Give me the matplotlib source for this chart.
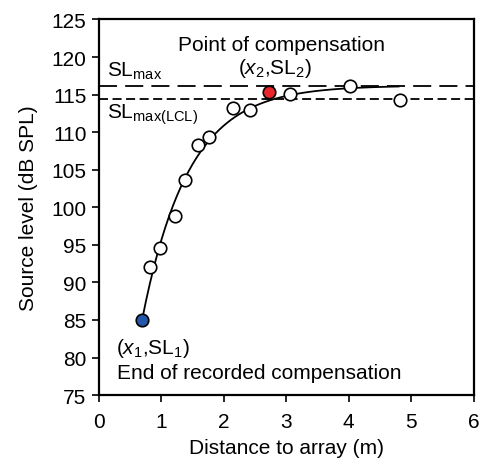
import numpy as np
import matplotlib
matplotlib.use("Agg")
import matplotlib.pyplot as plt

plt.rcParams['font.family'] = ['Liberation Sans', 'DejaVu Sans']
plt.rcParams['mathtext.fontset'] = 'custom'
plt.rcParams['mathtext.rm'] = 'Liberation Sans'
plt.rcParams['mathtext.it'] = 'Liberation Sans:italic'

# data (distance m, source level dB SPL)
dist = [0.82, 0.97, 1.22, 1.38, 1.58, 1.77, 2.14, 2.42, 3.06, 4.02, 4.82]
sl = [92.1, 94.6, 98.8, 103.6, 108.3, 109.4, 113.2, 113.0, 115.1, 116.1, 114.3]
start_pt = (0.69, 85.0)      # (x1, SL1)
comp_pt = (2.72, 115.3)      # (x2, SL2)
sl_max = 116.1
sl_max_lcl = 114.4
# exponential fit parameters
fit_asym = 116.2
fit_amp = 31.2
fit_rate = 1.35
fit_x_end = 4.8

fig = plt.figure(figsize=(4.82, 4.60), dpi=100)
ax = fig.add_axes([0.2054, 0.139, 0.7770, 0.8165])

xf = np.linspace(start_pt[0], fit_x_end, 200)
yf = fit_asym - fit_amp * np.exp(-fit_rate * (xf - start_pt[0]))
ax.plot(xf, yf, color='black', lw=1.3, zorder=3)

ax.axhline(sl_max, color='black', lw=1.3, dashes=(10, 4.5), zorder=2)
ax.axhline(sl_max_lcl, color='black', lw=1.3, dashes=(5, 2.5), zorder=2)

ax.plot(dist, sl, 'o', ms=9, mfc='white', mec='black', mew=1.2, zorder=4)
ax.plot(*start_pt, 'o', ms=9, mfc='#2358a8', mec='black', mew=1.2, zorder=5)
ax.plot(*comp_pt, 'o', ms=9, mfc='#e8262a', mec='black', mew=1.2, zorder=5)

fs = 15
ax.text(2.93, 121.7, 'Point of compensation', ha='center', va='center', fontsize=fs)
ax.text(2.82, 118.6, r'($x_2$,SL$_2$)', ha='center', va='center', fontsize=fs)
ax.text(0.13, 118.2, r'SL$_\mathrm{max}$', ha='left', va='center', fontsize=fs)
ax.text(0.13, 112.4, r'SL$_\mathrm{max(LCL)}$', ha='left', va='center', fontsize=fs)
ax.text(0.27, 81.3, r'($x_1$,SL$_1$)', ha='left', va='center', fontsize=fs)
ax.text(0.29, 78.0, 'End of recorded compensation', ha='left', va='center', fontsize=fs)

ax.set_xlim(0, 6)
ax.set_ylim(75, 125)
ax.set_xticks(range(0, 7))
ax.set_yticks(range(75, 126, 5))
ax.tick_params(direction='out', length=5, width=1.2, labelsize=fs)
ax.tick_params(axis='x', pad=7.5)
ax.tick_params(axis='y', pad=4)
for s in ax.spines.values():
    s.set_linewidth(1.6)
ax.set_xlabel('Distance to array (m)', fontsize=fs, labelpad=5)
ax.set_ylabel('Source level (dB SPL)', fontsize=fs, labelpad=9.5)

fig.savefig('out.png', dpi=100)
